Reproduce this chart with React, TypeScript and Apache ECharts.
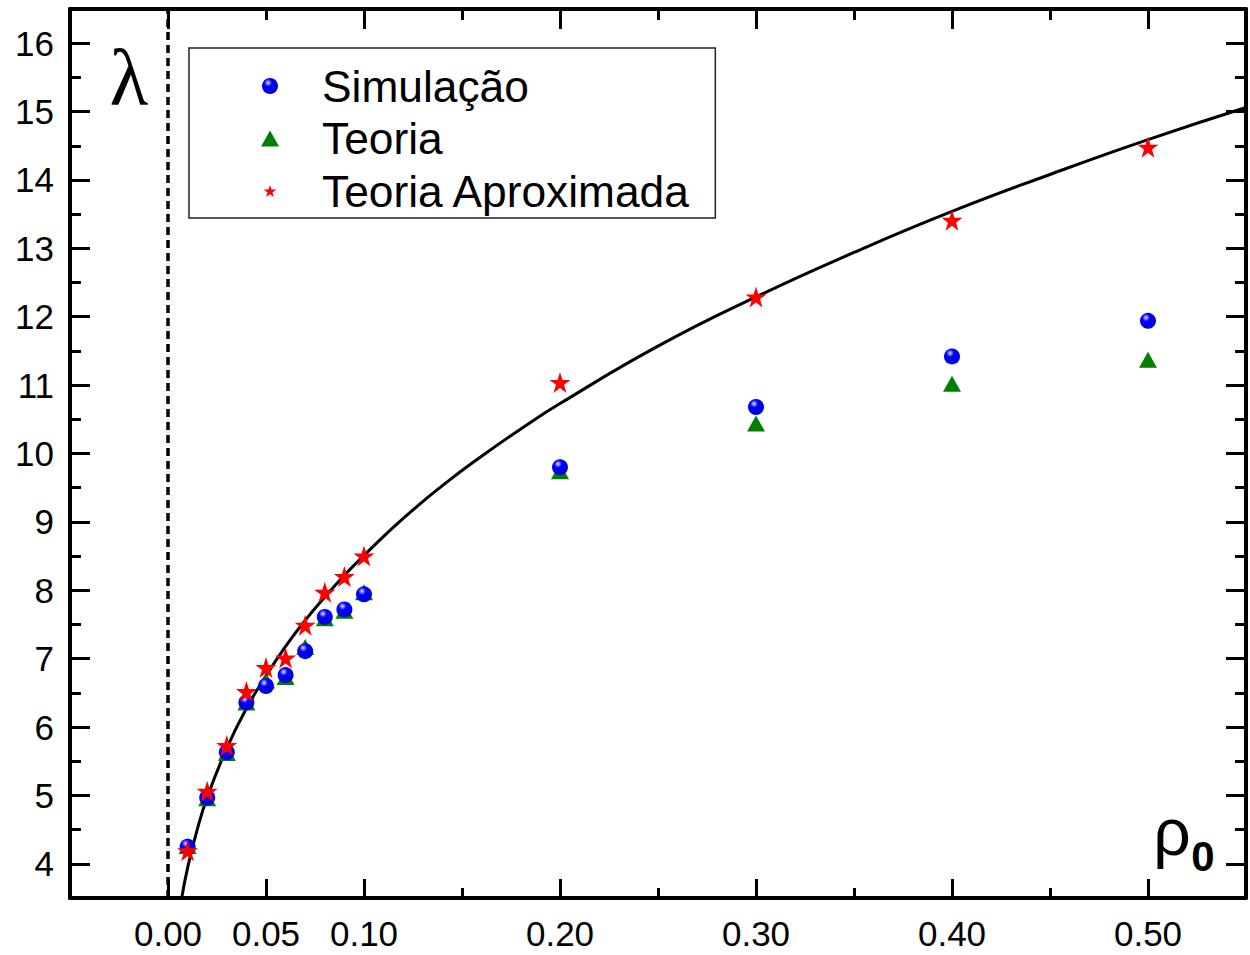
import React, { useEffect, useRef } from "react";
import * as echarts from "echarts";

const FONT = "'Liberation Sans', Arial, sans-serif";
const SERIF = "'Liberation Serif', 'Times New Roman', serif";

// Measurement points
const rho = [0.01, 0.02, 0.03, 0.04, 0.05, 0.06, 0.07, 0.08, 0.09, 0.1, 0.2, 0.3, 0.4, 0.5];
const simulacao = [4.25, 4.97, 5.63, 6.36, 6.6, 6.76, 7.11, 7.61, 7.72, 7.94, 9.8, 10.68, 11.42, 11.94];
const teoria = [4.26, 4.96, 5.62, 6.36, 6.68, 6.73, 7.17, 7.59, 7.7, 7.97, 9.74, 10.44, 11.02, 11.37];
const aproximada = [4.19, 5.06, 5.73, 6.52, 6.87, 7.01, 7.49, 7.97, 8.2, 8.5, 11.04, 12.29, 13.41, 14.48];

// Solid curve
const curveRho = [0.007, 0.01, 0.015, 0.02, 0.03, 0.04, 0.05, 0.06, 0.07, 0.08, 0.09, 0.1, 0.12, 0.14, 0.16, 0.18, 0.2, 0.25, 0.3, 0.35, 0.4, 0.45, 0.5, 0.55];
const curveLambda = [3.5, 3.94, 4.51, 4.97, 5.69, 6.27, 6.75, 7.18, 7.56, 7.9, 8.22, 8.51, 9.05, 9.53, 9.96, 10.36, 10.73, 11.57, 12.29, 12.94, 13.54, 14.08, 14.59, 15.06];

// Axis ticks / labels
const xMin = -0.05;
const xMax = 0.55;
const yMin = 3.5;
const yMax = 16.5;
const xLabels = [0, 0.05, 0.1, 0.2, 0.3, 0.4, 0.5];
const xMajorBottom = [0, 0.05, 0.1, 0.2, 0.3, 0.4, 0.5];
const xMinorBottom = [0.15, 0.25, 0.35, 0.45];
const xMajorTop = [0, 0.1, 0.2, 0.3, 0.4, 0.5];
const xMinorTop = [0.05, 0.15, 0.25, 0.35, 0.45];
const yLabels = [4, 5, 6, 7, 8, 9, 10, 11, 12, 13, 14, 15, 16];
const yMinor = [4.5, 5.5, 6.5, 7.5, 8.5, 9.5, 10.5, 11.5, 12.5, 13.5, 14.5, 15.5];

const legendNames = ["Simulação", "Teoria", "Teoria Aproximada"];

const STAR = "path://M50,0 L61.2,34.5 L97.6,34.5 L68.2,55.9 L79.4,90.5 L50,69.1 L20.6,90.5 L31.8,55.9 L2.4,34.5 L38.8,34.5 Z";
// same star with an invisible margin so it draws smaller inside the legend box
const STAR_LEGEND =
  "path://M50,-14 L50.1,-14 Z M50,105 L50.1,105 Z M50,0 L61.2,34.5 L97.6,34.5 L68.2,55.9 L79.4,90.5 L50,69.1 L20.6,90.5 L31.8,55.9 L2.4,34.5 L38.8,34.5 Z";

function xAxis(position: string, ticks: number[], len: number, showLine: boolean, labels?: number[]) {
  return {
    type: "value",
    position,
    min: xMin,
    max: xMax,
    splitLine: { show: false },
    axisLine: { show: showLine, onZero: false, lineStyle: { color: "#000", width: 4 } },
    axisTick: { show: true, inside: true, length: len, customValues: ticks, lineStyle: { color: "#000", width: 3 } },
    axisLabel: labels
      ? {
          show: true,
          customValues: labels,
          formatter: (v: number) => v.toFixed(2),
          fontSize: 35,
          fontFamily: FONT,
          color: "#000",
          margin: 18,
        }
      : { show: false },
  };
}

function yAxis(position: string, ticks: number[], len: number, showLine: boolean, labels?: number[]) {
  return {
    type: "value",
    position,
    min: yMin,
    max: yMax,
    splitLine: { show: false },
    axisLine: { show: showLine, onZero: false, lineStyle: { color: "#000", width: 4 } },
    axisTick: { show: true, inside: true, length: len, customValues: ticks, lineStyle: { color: "#000", width: 3 } },
    axisLabel: labels
      ? {
          show: true,
          customValues: labels,
          fontSize: 35,
          fontFamily: FONT,
          color: "#000",
          margin: 16,
        }
      : { show: false },
  };
}

export default function App() {
  const ref = useRef<HTMLDivElement>(null);
  useEffect(() => {
    document.body.style.margin = "0";
    const chart = echarts.init(ref.current!, null, { renderer: "svg" });
    const sphere = new echarts.graphic.RadialGradient(0.38, 0.3, 0.8, [
      { offset: 0, color: "#ffffff" },
      { offset: 0.1, color: "#9090ff" },
      { offset: 0.3, color: "#0000ff" },
      { offset: 1, color: "#0000cc" },
    ]);
    const option = {
      animation: false,
      backgroundColor: "#fff",
      grid: { left: 70, right: 4, top: 9, bottom: 57 },
      xAxis: [
        xAxis("bottom", xMajorBottom, 19, true, xLabels),
        xAxis("bottom", xMinorBottom, 10, false),
        xAxis("top", xMajorTop, 20, true),
        xAxis("top", xMinorTop, 11, false),
      ],
      yAxis: [
        yAxis("left", yLabels, 20, true, yLabels),
        yAxis("left", yMinor, 11, false),
        yAxis("right", yLabels, 20, true),
        yAxis("right", yMinor, 11, false),
      ],
      legend: {
        data: [
          { name: legendNames[0] },
          { name: legendNames[1] },
          { name: legendNames[2], icon: STAR_LEGEND },
        ],
        orient: "vertical",
        left: 189,
        top: 48,
        padding: [16, 24, 5, 72],
        itemWidth: 18,
        itemHeight: 16,
        itemGap: 8.5,
        symbolKeepAspect: true,
        borderColor: "#222",
        borderWidth: 1.5,
        selectedMode: false,
        textStyle: { fontSize: 44.3, fontFamily: FONT, color: "#000", padding: [0, 0, 0, 38] },
      },
      series: [
        {
          type: "line",
          name: "curve",
          data: curveRho.map((x, i) => [x, curveLambda[i]]),
          smooth: true,
          showSymbol: false,
          symbol: "none",
          lineStyle: { color: "#000", width: 3 },
          z: 1,
          markLine: {
            silent: true,
            symbol: "none",
            label: { show: false },
            lineStyle: { color: "#000", width: 3.5, type: [8, 5] },
            emphasis: { disabled: true },
            data: [{ xAxis: 0 }],
          },
        },
        {
          type: "scatter",
          name: "Teoria",
          data: rho.map((x, i) => [x, teoria[i]]),
          symbol: "triangle",
          symbolSize: [18, 16],
          itemStyle: { color: "#008000", opacity: 1 },
          z: 2,
        },
        {
          type: "scatter",
          name: "Simulação",
          data: rho.map((x, i) => [x, simulacao[i]]),
          symbol: "circle",
          symbolSize: 16,
          itemStyle: { color: sphere, opacity: 1 },
          z: 3,
        },
        {
          type: "scatter",
          name: "Teoria Aproximada",
          data: rho.map((x, i) => [x, aproximada[i]]),
          symbol: STAR,
          symbolSize: 21,
          itemStyle: { color: "#ff0000", opacity: 1 },
          z: 4,
        },
      ],
      graphic: [
        {
          type: "text",
          x: 129,
          y: 78,
          style: { text: "λ", fontSize: 80, fontFamily: SERIF, fill: "#000", align: "center", verticalAlign: "middle" },
        },
        {
          type: "text",
          x: 1172,
          y: 832,
          style: { text: "ρ", fontSize: 66, fontFamily: FONT, fill: "#000", align: "center", verticalAlign: "middle" },
        },
        {
          type: "text",
          x: 1203,
          y: 856,
          style: { text: "0", fontSize: 42, fontWeight: "bold", fontFamily: FONT, fill: "#000", align: "center", verticalAlign: "middle" },
        },
      ],
    };
    chart.setOption(option as any);
    return () => chart.dispose();
  }, []);
  return <div ref={ref} style={{ width: 1250, height: 955 }} />;
}
